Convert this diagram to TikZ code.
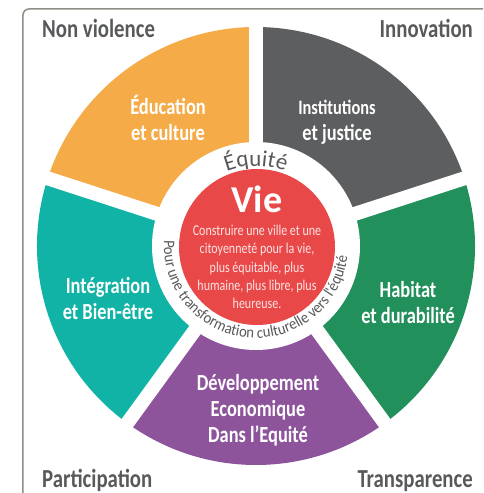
\documentclass[tikz,border=0pt]{standalone}
\usepackage{fontspec}
\setmainfont{Carlito}
\newfontfamily\narrowfont{Carlito}[FakeStretch=0.8]
\newfontfamily\arcfamily{Carlito}[FakeStretch=0.92]
\usetikzlibrary{decorations.text}

\definecolor{edugold}{HTML}{F5AB47}
\definecolor{instgray}{HTML}{5D5E60}
\definecolor{habgreen}{HTML}{21905A}
\definecolor{devpurple}{HTML}{8D539B}
\definecolor{intteal}{HTML}{10B3A5}
\definecolor{viered}{HTML}{E94848}
\definecolor{labelgray}{HTML}{58595B}
\definecolor{framegray}{HTML}{8E8E86}
\definecolor{palepink}{HTML}{FDE3E3}

\newcommand{\ringfont}{\fontsize{23}{23}\selectfont}
\newcommand{\arcfont}{\arcfamily\fontsize{16}{16}\selectfont}

\begin{document}
\begin{tikzpicture}[x=1pt, y=1pt,
    corner/.style={font=\narrowfont\bfseries\fontsize{26}{30}\selectfont, text=labelgray, inner sep=0pt},
    sector/.style={font=\narrowfont\bfseries\fontsize{23}{26}\selectfont, text=white, align=center, inner sep=0pt},
    gap/.style={white, line width=14pt}]

    \clip (-256,-247) rectangle (227,246);

    % Frame
    \draw[framegray, line width=1.5pt, rounded corners=6pt] (-233,237) rectangle (270,-270);

    % Sectors
    \fill[edugold] (0,0) -- (90:219pt) arc[start angle=90, end angle=162, radius=219pt] -- cycle;
    \fill[intteal] (0,0) -- (162:219pt) arc[start angle=162, end angle=234, radius=219pt] -- cycle;
    \fill[devpurple] (0,0) -- (234:219pt) arc[start angle=234, end angle=306, radius=219pt] -- cycle;
    \fill[habgreen] (0,0) -- (306:219pt) arc[start angle=306, end angle=378, radius=219pt] -- cycle;
    \fill[instgray] (0,0) -- (18:219pt) arc[start angle=18, end angle=90, radius=219pt] -- cycle;

    % White gaps between sectors
    \draw[gap] (0,0) -- (90:235pt);
    \draw[gap] (0,0) -- (162:235pt);
    \draw[gap] (0,0) -- (234:235pt);
    \draw[gap] (0,0) -- (306:235pt);
    \draw[gap] (0,0) -- (18:235pt);

    % Ring and centre
    \fill[white] (0,0) circle[radius=104pt];
    \fill[viered] (1,-1) circle[radius=78pt];

    % Curved texts in the ring
    \path[decorate, decoration={text along path, text={|\ringfont|Équité}, text align=center, text color=labelgray}]
        (120:80pt) arc[start angle=120, end angle=60, radius=80pt];
    \path[decorate, decoration={text along path, text={|\arcfont|Pour une transformation culturelle vers l'équité}, text align=center, text color=labelgray}]
        (175:92pt) arc[start angle=175, end angle=355, radius=92pt];

    % Centre texts
    \node[anchor=base, text=white, font=\bfseries\fontsize{38}{40}\selectfont, inner sep=0pt] (vie) at (1,34) {Vie};
    \node[text=palepink, font=\narrowfont\fontsize{15}{18.2}\selectfont, align=center, inner sep=0pt] (motto) at (1,-21)
        {Construire une ville et une\\citoyenneté pour la vie,\\plus équitable, plus\\humaine, plus libre, plus\\heureuse.};

    % Sector labels
    \node[sector] (education) at (-88,128) {Éducation\\et culture};
    \node[sector] (institutions) at (81,124) {{\fontsize{20.5}{26}\selectfont Institutions}\\et justice};
    \node[sector] (integration) at (-148,-52) {Intégration\\et Bien-être};
    \node[sector] (habitat) at (152,-57) {Habitat\\et durabilité};
    \node[sector] (developpement) at (2,-164) {Développement\\Economique\\Dans l’Equité};

    % Corner labels
    \node[corner, anchor=base west] (nonviolence) at (-214,208) {Non violence};
    \node[corner, anchor=base east] (innovation) at (217,208) {Innovation};
    \node[corner, anchor=base west] (participation) at (-214,-241) {Participation};
    \node[corner, anchor=base east] (transparence) at (217,-241) {Transparence};
\end{tikzpicture}
\end{document}
